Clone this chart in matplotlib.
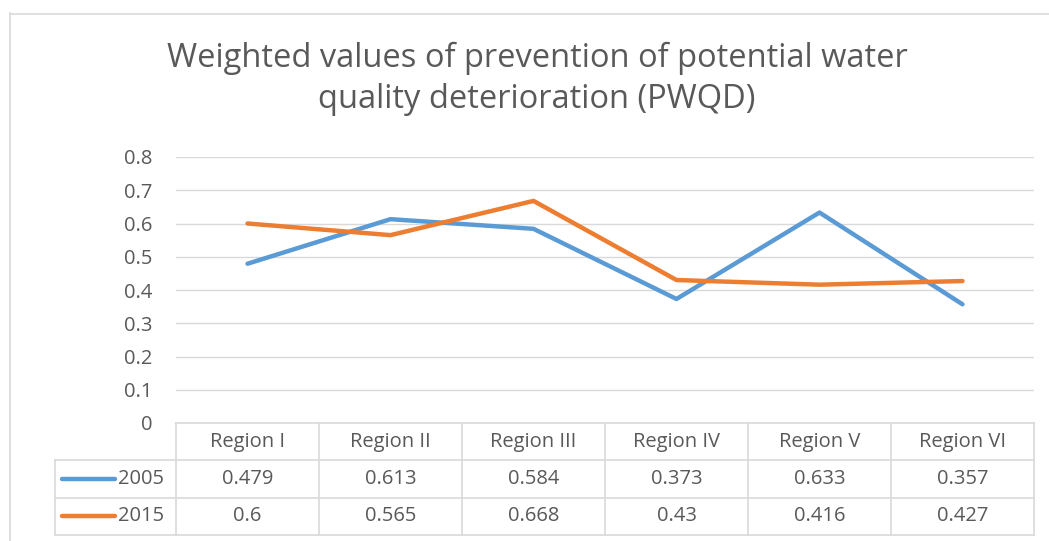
import matplotlib
matplotlib.use("Agg")
import numpy as np
import matplotlib.pyplot as plt
from matplotlib.lines import Line2D

regions = ["Region I", "Region II", "Region III", "Region IV", "Region V", "Region VI"]
series_names = ["2005", "2015"]
values_2005 = [0.479, 0.613, 0.584, 0.373, 0.633, 0.357]
values_2015 = [0.6, 0.565, 0.668, 0.43, 0.416, 0.427]
y_ticks = [0, 0.1, 0.2, 0.3, 0.4, 0.5, 0.6, 0.7, 0.8]
y_labels = ["0", "0.1", "0.2", "0.3", "0.4", "0.5", "0.6", "0.7", "0.8"]

plt.rcParams["font.family"] = ["Open Sans", "DejaVu Sans"]
TEXT = "#595959"
GRID = "#D9D9D9"
colors = ["#5B9BD5", "#ED7D31"]
FS = 14.5

W, H = 1049, 541
fig = plt.figure(figsize=(W / 100, H / 100), dpi=100)


def box(x0, y0, x1, y1):
    # pixel box (top-left origin) -> figure fraction rect
    return [x0 / W, 1 - y1 / H, (x1 - x0) / W, (y1 - y0) / H]


# chart frame
fig.add_artist(Line2D([9.5 / W, 9.5 / W], [0, 1 - 13 / H], color=GRID, lw=1.2))
fig.add_artist(Line2D([9.5 / W, 1], [1 - 13.5 / H, 1 - 13.5 / H], color=GRID, lw=1.2))

fig.text(537 / W, 1 - 79 / H, "Weighted values of prevention of potential water\nquality deterioration (PWQD)",
         ha="center", va="center", fontsize=23.5, color=TEXT, linespacing=1.3)

# plot area
ax = fig.add_axes(box(176, 157, 1034, 423))
x = np.arange(len(regions))
ax.plot(x, values_2005, color=colors[0], lw=3.2, solid_capstyle="round")
ax.plot(x, values_2015, color=colors[1], lw=3.2, solid_capstyle="round")
ax.set_xlim(-0.5, len(regions) - 0.5)
ax.set_ylim(0, 0.8)
ax.set_yticks(y_ticks)
ax.set_yticklabels(y_labels)
ax.set_xticks([])
ax.yaxis.grid(True, color=GRID, lw=1)
ax.set_axisbelow(True)
for s in ax.spines.values():
    s.set_visible(False)
ax.tick_params(axis="y", length=0, pad=17, labelsize=FS, labelcolor=TEXT)

# data table
n = len(regions)
left = -0.5 - (176 - 55) / 143.0
tab = fig.add_axes(box(55, 423, 1034, 535))
tab.set_xlim(left, n - 0.5)
tab.set_ylim(3, 0)
tab.axis("off")
lc = dict(color=GRID, lw=1.2, clip_on=False)
tab.plot([-0.5, n - 0.5], [0, 0], **lc)
for r in [1, 2, 3]:
    tab.plot([left, n - 0.5], [r, r], **lc)
for c in range(n + 1):
    tab.plot([c - 0.5, c - 0.5], [0, 3], **lc)
tab.plot([left, left], [1, 3], **lc)

for i, reg in enumerate(regions):
    tab.text(i, 0.5, reg, ha="center", va="center", fontsize=FS, color=TEXT)
for r, (name, vals) in enumerate(zip(series_names, [values_2005, values_2015])):
    yy = r + 1.5
    tab.plot([left + 0.05, left + 0.42], [yy, yy], color=colors[r], lw=3.2,
             solid_capstyle="round", clip_on=False)
    tab.text(left + 0.44, yy, name, ha="left", va="center", fontsize=FS, color=TEXT)
    for i, v in enumerate(vals):
        tab.text(i, yy, f"{v:g}", ha="center", va="center", fontsize=FS, color=TEXT)

fig.savefig("out.png", dpi=100)
